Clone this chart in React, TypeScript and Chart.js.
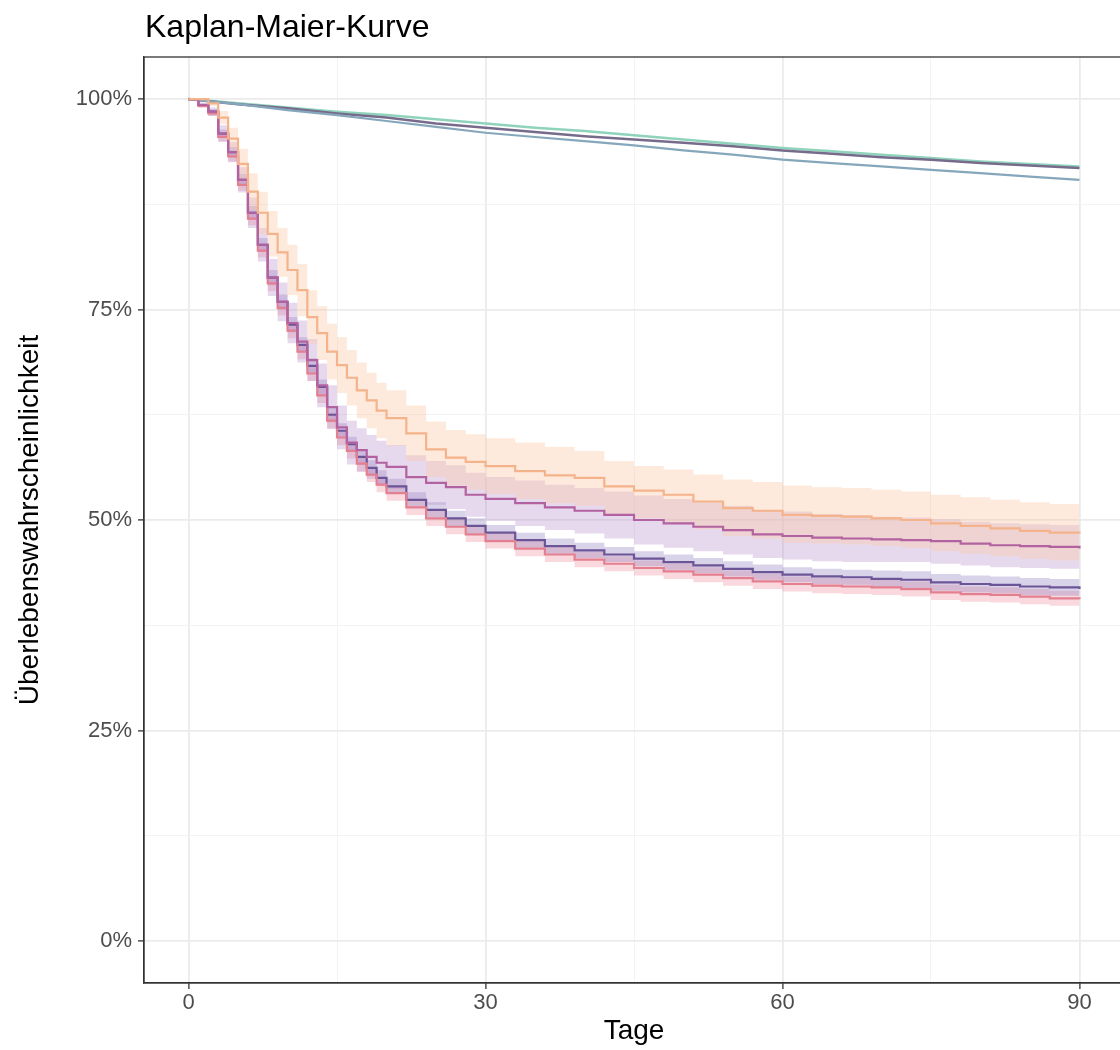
import React, { useEffect, useRef } from "react";
import { Chart, registerables } from "chart.js";

Chart.register(...registerables);

// ---------- data ----------
const titleText = "Kaplan-Maier-Kurve";
const xTitle = "Tage";
const yTitle = "Überlebenswahrscheinlichkeit";

const xMajorTicks = [0, 30, 60, 90];
const xMinorTicks = [15, 45, 75];
const yMajorTicks = [0, 25, 50, 75, 100];
const yMinorTicks = [12.5, 37.5, 62.5, 87.5];

// event days for the four lower curves
const days = [0, 1, 2, 3, 4, 5, 6, 7, 8, 9, 10, 11, 12, 13, 14, 15, 16, 17, 18, 19, 20, 22, 24, 26, 28, 30,
  33, 36, 39, 42, 45, 48, 51, 54, 57, 60, 63, 66, 69, 72, 75, 78, 81, 84, 87, 90];

const purpleEst = [100, 99.3, 98.5, 95.9, 93.7, 90.4, 86.5, 82.7, 78.8, 75.9, 73.2, 70.8, 68.3, 65.8, 62.5, 60.6, 59.0, 57.5, 56.2, 55.0, 54.0, 52.4, 51.2, 50.2, 49.3, 48.5,
  47.6, 46.9, 46.4, 45.9, 45.4, 45.0, 44.6, 44.2, 43.8, 43.5, 43.3, 43.2, 43.0, 42.9, 42.6, 42.4, 42.3, 42.1, 42.0, 41.8];
const purpleLo = [100, 99.1, 98.2, 95.4, 93.1, 89.7, 85.7, 81.9, 77.9, 75.0, 72.3, 69.9, 67.4, 64.9, 61.6, 59.7, 58.1, 56.6, 55.3, 54.1, 53.1, 51.5, 50.3, 49.3, 48.4, 47.6,
  46.7, 46.0, 45.5, 45.0, 44.5, 44.1, 43.7, 43.3, 42.9, 42.6, 42.4, 42.3, 42.0, 41.9, 41.6, 41.4, 41.3, 41.1, 41.0, 40.8];
const purpleHi = [100, 99.5, 98.8, 96.4, 94.3, 91.1, 87.3, 83.5, 79.7, 76.8, 74.1, 71.7, 69.2, 66.7, 63.4, 61.5, 59.9, 58.4, 57.1, 55.9, 54.9, 53.3, 52.1, 51.1, 50.2, 49.4,
  48.5, 47.8, 47.3, 46.8, 46.3, 45.9, 45.5, 45.1, 44.7, 44.4, 44.2, 44.1, 44.0, 43.9, 43.6, 43.4, 43.3, 43.1, 43.0, 42.8];

const pinkEst = [100, 99.2, 98.3, 95.5, 93.2, 89.8, 85.8, 82.0, 78.1, 75.2, 72.5, 70.0, 67.4, 64.8, 61.8, 59.8, 58.2, 56.7, 55.4, 54.2, 53.2, 51.5, 50.2, 49.2, 48.3, 47.5,
  46.6, 45.9, 45.3, 44.8, 44.3, 43.9, 43.5, 43.1, 42.7, 42.4, 42.2, 42.1, 42.0, 41.8, 41.4, 41.2, 41.1, 40.9, 40.7, 40.6];
const pinkLo = [100, 99.0, 98.0, 95.0, 92.6, 89.1, 85.0, 81.2, 77.2, 74.3, 71.6, 69.1, 66.5, 63.9, 60.9, 58.9, 57.3, 55.8, 54.5, 53.3, 52.3, 50.6, 49.3, 48.3, 47.4, 46.6,
  45.7, 45.0, 44.4, 43.9, 43.4, 43.0, 42.6, 42.2, 41.8, 41.5, 41.3, 41.2, 41.1, 40.9, 40.5, 40.3, 40.2, 40.0, 39.8, 39.7];
const pinkHi = [100, 99.4, 98.6, 96.0, 93.8, 90.5, 86.6, 82.8, 79.0, 76.1, 73.4, 70.9, 68.3, 65.7, 62.7, 60.7, 59.1, 57.6, 56.3, 55.1, 54.1, 52.4, 51.1, 50.1, 49.2, 48.4,
  47.5, 46.8, 46.2, 45.7, 45.2, 44.8, 44.4, 44.0, 43.6, 43.3, 43.1, 43.0, 42.9, 42.7, 42.3, 42.1, 42.0, 41.8, 41.6, 41.5];

const magentaEst = [100, 99.3, 98.5, 95.9, 93.7, 90.4, 86.5, 82.7, 78.8, 75.9, 73.4, 71.2, 69.0, 66.0, 63.4, 61.0, 59.2, 58.3, 57.5, 56.8, 56.3, 55.1, 54.4, 53.9, 53.0, 52.5,
  52.0, 51.5, 51.1, 50.6, 50.0, 49.6, 49.2, 48.8, 48.3, 48.1, 47.9, 47.8, 47.7, 47.6, 47.5, 47.2, 47.0, 46.9, 46.8, 46.6];
const magentaLo = [100, 99.0, 98.0, 94.9, 92.5, 88.9, 84.7, 80.7, 76.6, 73.6, 71.0, 68.7, 66.5, 63.4, 60.8, 58.4, 56.6, 55.7, 54.9, 54.2, 53.7, 52.5, 51.8, 51.3, 50.4, 49.9,
  49.3, 48.8, 48.4, 47.8, 47.1, 46.7, 46.3, 45.9, 45.5, 45.3, 45.1, 45.0, 45.0, 45.0, 44.8, 44.6, 44.4, 44.3, 44.2, 44.1];
const magentaHi = [100, 99.6, 99.0, 96.9, 94.9, 91.9, 88.3, 84.7, 81.0, 78.2, 75.8, 73.7, 71.5, 68.6, 66.0, 63.6, 61.8, 60.9, 60.1, 59.4, 58.9, 57.7, 57.0, 56.5, 55.6, 55.1,
  54.7, 54.2, 53.8, 53.4, 52.9, 52.5, 52.1, 51.7, 51.2, 51.0, 50.7, 50.6, 50.4, 50.3, 50.1, 49.8, 49.6, 49.5, 49.4, 49.3];

const orangeEst = [100, 100, 99.5, 97.8, 95.3, 92.3, 89.0, 86.5, 84.0, 81.8, 79.7, 77.3, 74.1, 72.2, 70.0, 68.4, 66.9, 65.4, 64.2, 63.0, 62.1, 60.3, 58.4, 57.4, 56.9, 56.4,
  55.8, 55.3, 55.0, 54.0, 53.5, 53.0, 52.2, 51.4, 51.1, 50.6, 50.5, 50.4, 50.2, 50.0, 49.6, 49.3, 49.0, 48.7, 48.5, 48.4];
const orangeLo = [100, 100, 99.2, 97.0, 94.0, 90.5, 86.8, 84.0, 81.3, 78.9, 76.7, 74.2, 70.9, 69.0, 66.7, 65.1, 63.6, 62.1, 60.9, 59.7, 58.8, 57.0, 55.1, 54.1, 53.6, 53.1,
  52.5, 52.0, 51.7, 50.7, 50.2, 49.7, 48.9, 48.1, 47.8, 47.3, 47.2, 47.1, 46.9, 46.7, 46.3, 46.0, 45.7, 45.4, 45.2, 45.1];
const orangeHi = [100, 100, 99.8, 98.6, 96.6, 94.1, 91.2, 89.0, 86.7, 84.7, 82.7, 80.4, 77.3, 75.4, 73.3, 71.7, 70.2, 68.7, 67.5, 66.3, 65.4, 63.6, 61.7, 60.7, 60.2, 59.7,
  59.2, 58.7, 58.2, 57.0, 56.4, 56.0, 55.4, 54.8, 54.5, 54.1, 53.9, 53.8, 53.6, 53.4, 53.0, 52.7, 52.4, 52.1, 51.9, 51.8];

// three upper curves
const topDays = [0, 5, 10, 15, 20, 25, 30, 35, 40, 45, 50, 55, 60, 65, 70, 75, 80, 85, 90];
const tealEst = [100, 99.5, 99.0, 98.5, 98.1, 97.6, 97.1, 96.6, 96.2, 95.7, 95.2, 94.7, 94.2, 93.8, 93.4, 93.0, 92.6, 92.3, 92.0];
const slateEst = [100, 99.4, 98.9, 98.3, 97.8, 97.1, 96.6, 96.1, 95.6, 95.2, 94.8, 94.4, 93.9, 93.5, 93.1, 92.8, 92.4, 92.1, 91.8];
const steelEst = [100, 99.4, 98.7, 98.1, 97.4, 96.7, 96.0, 95.5, 95.0, 94.5, 93.9, 93.4, 92.8, 92.4, 92.0, 91.6, 91.2, 90.8, 90.4];

// ---------- helpers ----------
const FONT = '"Liberation Sans", Arial, sans-serif';
const xy = (xs: number[], ys: number[]) => xs.map((x, i) => ({ x, y: ys[i] }));

function bandSets(lo: number[], hi: number[], color: string) {
  return [
    { data: xy(days, lo), borderWidth: 0, pointRadius: 0, fill: false, stepped: "before", order: 1, backgroundColor: color },
    { data: xy(days, hi), borderWidth: 0, pointRadius: 0, fill: "-1", stepped: "before", order: 1, backgroundColor: color },
  ];
}
function lineSet(xs: number[], ys: number[], color: string, stepped: any, width = 2.2) {
  return { data: xy(xs, ys), borderColor: color, borderWidth: width, pointRadius: 0, fill: false, stepped, order: 0 };
}

const framePlugin = {
  id: "frameAndTitle",
  afterDraw(chart: any) {
    const { ctx, chartArea: a } = chart;
    ctx.save();
    ctx.strokeStyle = "#333333";
    ctx.lineWidth = 1.3;
    ctx.strokeRect(a.left, a.top, a.right - a.left, a.bottom - a.top);
    ctx.fillStyle = "#000000";
    ctx.font = `32px ${FONT}`;
    ctx.textAlign = "left";
    ctx.textBaseline = "alphabetic";
    ctx.fillText(titleText, 145, 37);
    ctx.restore();
  },
};

export default function App() {
  const ref = useRef<HTMLCanvasElement | null>(null);

  useEffect(() => {
    if (!ref.current) return;
    const datasets: any[] = [
      ...bandSets(orangeLo, orangeHi, "rgba(252, 200, 165, 0.38)"),
      ...bandSets(magentaLo, magentaHi, "rgba(175, 130, 195, 0.30)"),
      ...bandSets(purpleLo, purpleHi, "rgba(130, 110, 185, 0.30)"),
      ...bandSets(pinkLo, pinkHi, "rgba(235, 130, 145, 0.30)"),
      lineSet(days, orangeEst, "#f4b38a", "before"),
      lineSet(days, magentaEst, "#b262a0", "before"),
      lineSet(days, pinkEst, "#e47f8f", "before"),
      lineSet(days, purpleEst, "#6c5597", "before"),
      lineSet(topDays, steelEst, "#86a7bb", false),
      lineSet(topDays, slateEst, "#776b8c", false, 2.5),
      lineSet(topDays, tealEst, "#8fd3bd", false, 2.5),
    ];

    const isMajor = (list: number[]) => (c: any) => c.tick && list.includes(c.tick.value);

    const chart = new Chart(ref.current, {
      type: "line",
      data: { datasets },
      plugins: [framePlugin],
      options: {
        animation: false,
        responsive: false,
        devicePixelRatio: 1,
        layout: { padding: { top: 57, right: 76, bottom: 0, left: 0 } },
        plugins: { legend: { display: false }, tooltip: { enabled: false } },
        scales: {
          x: {
            type: "linear",
            min: -4.5,
            max: 94.5,
            afterBuildTicks: (s: any) => {
              s.ticks = [...xMajorTicks, ...xMinorTicks].sort((a, b) => a - b).map((v) => ({ value: v }));
            },
            afterFit: (s: any) => {
              s.height = 67;
            },
            ticks: {
              autoSkip: false,
              maxRotation: 0,
              padding: 1,
              color: "#4d4d4d",
              font: { family: FONT, size: 22 },
              callback: (v: any) => (xMajorTicks.includes(v) ? String(v) : ""),
            },
            grid: {
              color: (c: any) => (isMajor(xMajorTicks)(c) ? "#ebebeb" : "#f3f3f3"),
              lineWidth: (c: any) => (isMajor(xMajorTicks)(c) ? 1.8 : 1),
              tickColor: (c: any) => (isMajor(xMajorTicks)(c) ? "#333333" : "rgba(0,0,0,0)"),
              tickLength: 6,
              tickWidth: 1.3,
            },
            border: { display: true, color: "#333333", width: 1.3 },
            title: { display: true, text: xTitle, color: "#000000", font: { family: FONT, size: 28 }, padding: { top: 0, bottom: 2 } },
          },
          y: {
            type: "linear",
            min: -5,
            max: 105,
            afterBuildTicks: (s: any) => {
              s.ticks = [...yMajorTicks, ...yMinorTicks].sort((a, b) => a - b).map((v) => ({ value: v }));
            },
            afterFit: (s: any) => {
              s.width = 144;
            },
            ticks: {
              autoSkip: false,
              padding: 6,
              color: "#4d4d4d",
              font: { family: FONT, size: 22 },
              callback: (v: any) => (yMajorTicks.includes(v) ? `${v}%` : ""),
            },
            grid: {
              color: (c: any) => (isMajor(yMajorTicks)(c) ? "#ebebeb" : "#f3f3f3"),
              lineWidth: (c: any) => (isMajor(yMajorTicks)(c) ? 1.8 : 1),
              tickColor: (c: any) => (isMajor(yMajorTicks)(c) ? "#333333" : "rgba(0,0,0,0)"),
              tickLength: 6,
              tickWidth: 1.3,
            },
            border: { display: true, color: "#333333", width: 1.3 },
            title: { display: true, text: yTitle, color: "#000000", font: { family: FONT, size: 28 }, padding: { top: 13, bottom: 0 } },
          },
        },
      } as any,
    });
    return () => chart.destroy();
  }, []);

  return (
    <div style={{ position: "absolute", left: 0, top: 0, width: 1120, height: 1050, overflow: "hidden", background: "#ffffff" }}>
      <canvas ref={ref} width={1200} height={1050} style={{ display: "block" }} />
    </div>
  );
}
